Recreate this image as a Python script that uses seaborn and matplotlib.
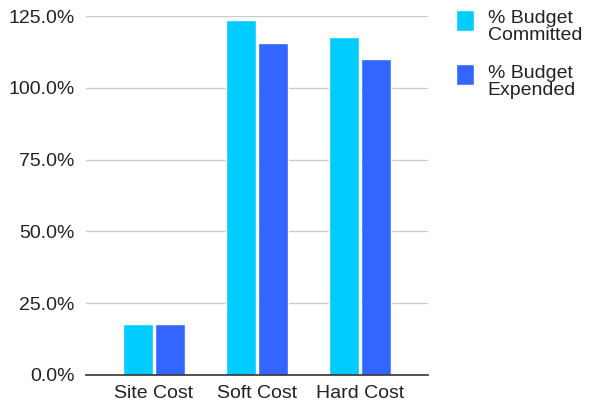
import numpy as np
import pandas as pd
import matplotlib
matplotlib.use('Agg')
import matplotlib.pyplot as plt
import seaborn as sns
from matplotlib.ticker import PercentFormatter

# Data
categories = ['Site Cost', 'Soft Cost', 'Hard Cost']
committed = [17.9, 123.5, 117.8]
expended = [17.9, 115.7, 110.0]
series_names = ['% Budget\nCommitted', '% Budget\nExpended']

df = pd.DataFrame({
    'Category': categories * 2,
    'Value': committed + expended,
    'Series': [series_names[0]] * 3 + [series_names[1]] * 3,
})

sns.set_style('white')
plt.rcParams['font.family'] = ['Liberation Sans', 'DejaVu Sans']

fig = plt.figure(figsize=(5.92, 4.04), dpi=100)
ax = fig.add_axes([0.145, 0.072, 0.578, 0.888])

sns.barplot(data=df, x='Category', y='Value', hue='Series',
            palette=['#00CCFF', '#3366FF'], width=0.62, gap=0.08,
            saturation=1, ax=ax, legend=True)

ax.set_ylim(0, 125)
ax.set_xlim(-0.66, 2.66)
ax.set_yticks([0, 25, 50, 75, 100, 125])
ax.yaxis.set_major_formatter(PercentFormatter(decimals=1))
ax.grid(axis='y', color='#cccccc', linewidth=1)
ax.set_axisbelow(True)
for s in ['top', 'right', 'left']:
    ax.spines[s].set_visible(False)
ax.spines['bottom'].set_color('#333333')
ax.spines['bottom'].set_linewidth(1.2)
ax.tick_params(axis='both', length=0, labelsize=14, colors='#222222')
ax.tick_params(axis='y', pad=8)
ax.tick_params(axis='x', pad=7)
ax.set_xlabel('')
ax.set_ylabel('')

handles, labels = ax.get_legend_handles_labels()
leg = ax.legend(handles, labels, loc='upper left', bbox_to_anchor=(1.03, 1.065),
                frameon=False, fontsize=14, handlelength=0.95, handleheight=1.3,
                labelspacing=1.05, handletextpad=0.7)
for t in leg.get_texts():
    t.set_linespacing(1.0)
    t.set_color('#222222')
# square sits beside the first line of each label
for p in leg.get_patches():
    p.set_y(p.get_y() + 5)

fig.savefig('out.png', dpi=100)
